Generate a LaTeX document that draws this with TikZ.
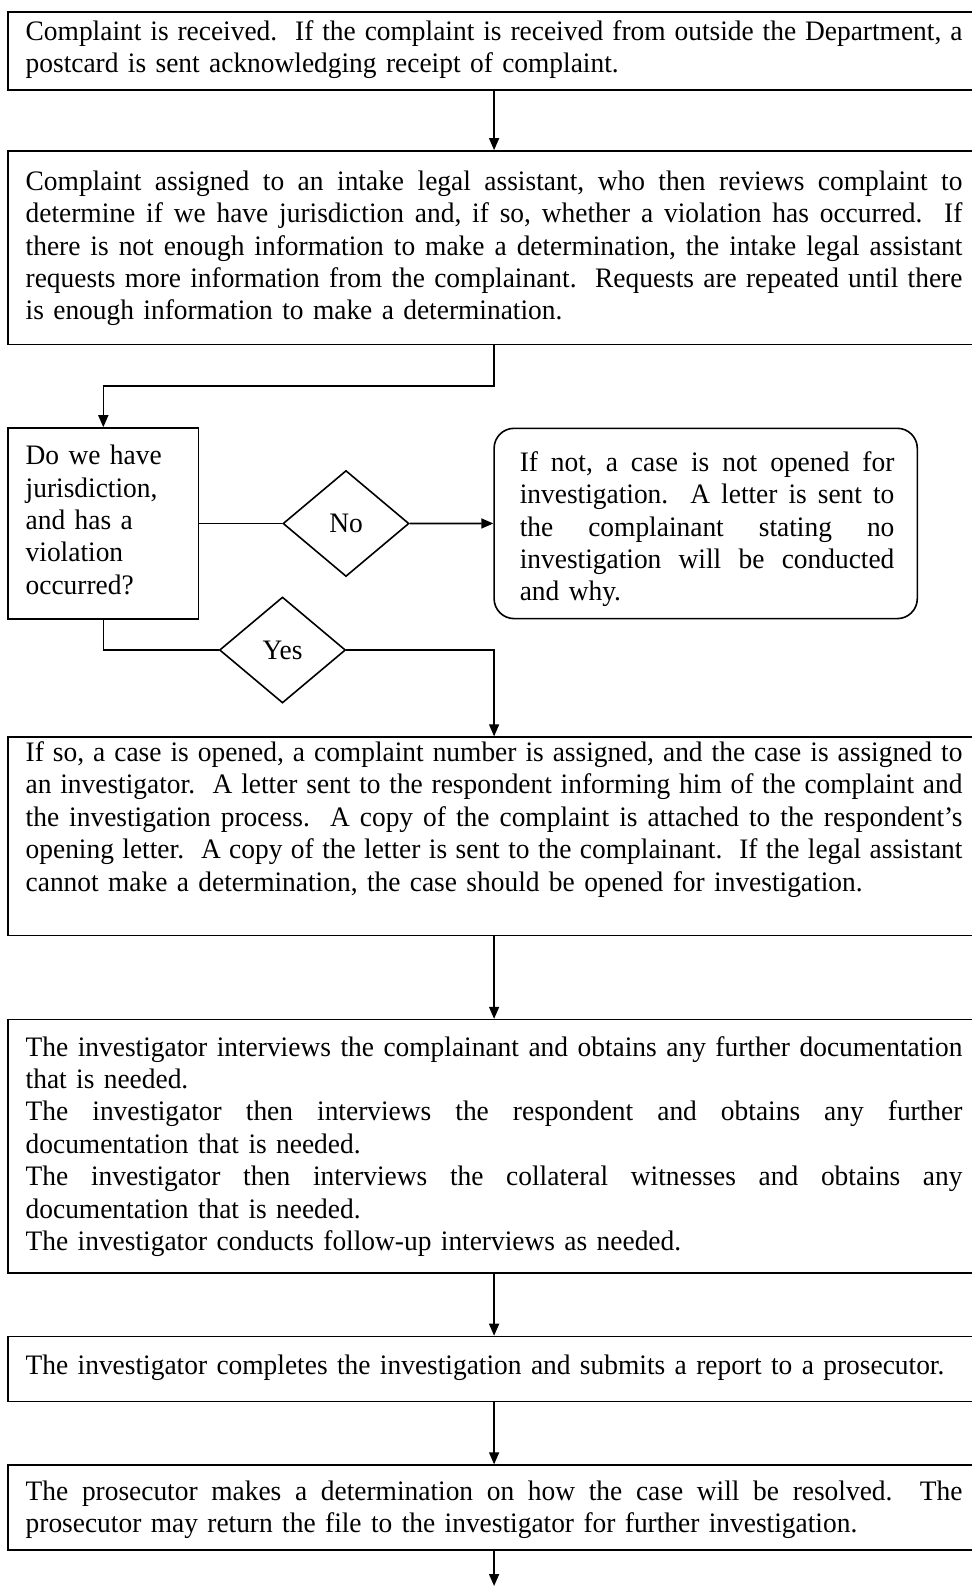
\documentclass[tikz,border=0pt]{standalone}
\usepackage{fontspec}
\setmainfont{Liberation Serif}[FakeStretch=0.972]
\usetikzlibrary{arrows.meta,shapes.geometric,fit}
\hyphenpenalty=10000
\exhyphenpenalty=10000
\frenchspacing
% a line set flush to both margins of its box (optional argument: its width)
\newcommand\jline[2][468.35pt]{\leavevmode\hbox to #1{%
  \spaceskip=\fontdimen2\font plus 1fil minus .1em\relax #2}}
\newcommand\flowfont{\fontsize{14.1pt}{16.2pt}\selectfont}
\tikzset{
  box/.style={draw, rectangle, line width=0.8pt, inner sep=0pt},
  rbox/.style={box, rounded corners=10pt},
  txt/.style={anchor=base west, inner sep=0pt, align=left, font=\flowfont},
  dia/.style={diamond, draw, line width=0.8pt, inner sep=0pt, font=\flowfont},
  conn/.style={line width=0.8pt},
  arr/.style={conn, -{Triangle[length=6pt,width=5pt]}}
}
\begin{document}
\begin{tikzpicture}[x=0.5pt, y=-0.5pt]
\useasboundingbox (0,0) rectangle (972,1587);
\fill[white] (0,0) rectangle (972,1587);
\clip (0,0) rectangle (972,1587);

% frames
\node[box, fit={(8.1,12.2) (990,90.1)}] (b1) {};
\node[box, fit={(8.1,150.9) (990,344.3)}] (b2) {};
\node[box, fit={(8.1,428) (198.5,619)}] (dec) {};
\node[rbox, fit={(494.1,428.3) (917.3,618.6)}] (rb) {};
\node[box, fit={(8.1,737.1) (990,935.5)}] (b3) {};
\node[box, fit={(8.1,1019.6) (990,1272.7)}] (b4) {};
\node[box, fit={(8.1,1336.5) (990,1401.3)}] (b5) {};
\node[box, fit={(8.1,1465.1) (990,1550.1)}] (b6) {};

% decisions
\node[dia, minimum width=63pt, minimum height=53pt] (no) at (346,523.5) {No};
\node[dia, minimum width=63pt, minimum height=53pt] (yes) at (282.5,650) {Yes};

% texts
\node[txt, text width=468.35pt] (t1) at (25.3,40.5) {%
\jline{Complaint is received.~ If the complaint is received from outside the Department, a}\\
postcard is sent acknowledging receipt of complaint.};

\node[txt, text width=468.35pt] (t2) at (25.3,190.3) {%
\jline{Complaint assigned to an intake legal assistant, who then reviews complaint to}\\
\jline{determine if we have jurisdiction and, if so, whether a violation has occurred.~ If}\\
\jline{there is not enough information to make a determination, the intake legal assistant}\\
\jline{requests more information from the complainant.~ Requests are repeated until there}\\
is enough information to make a determination.};

\node[txt, text width=80pt] (td) at (25.3,464.7) {%
Do we have\\ jurisdiction,\\ and has a\\ violation\\ occurred?};

\node[txt, text width=187.3pt] (tr) at (519.4,471.3) {%
\jline[187.3pt]{If not, a case is not opened for}\\
\jline[187.3pt]{investigation.~ A letter is sent to}\\
\jline[187.3pt]{the complainant stating no}\\
\jline[187.3pt]{investigation will be conducted}\\
and why.};

\node[txt, text width=468.35pt] (t3) at (25.3,761.4) {%
\jline{If so, a case is opened, a complaint number is assigned, and the case is assigned to}\\
\jline{an investigator.~ A letter sent to the respondent informing him of the complaint and}\\
\jline{the investigation process.~ A copy of the complaint is attached to the respondent’s}\\
\jline{opening letter.~ A copy of the letter is sent to the complainant.~ If the legal assistant}\\
cannot make a determination, the case should be opened for investigation.};

\node[txt, text width=468.35pt] (t4) at (25.3,1056) {%
\jline{The investigator interviews the complainant and obtains any further documentation}\\
that is needed.\\
\jline{The investigator then interviews the respondent and obtains any further}\\
documentation that is needed.\\
\jline{The investigator then interviews the collateral witnesses and obtains any}\\
documentation that is needed.\\
The investigator conducts follow-up interviews as needed.};

\node[txt, text width=468.35pt] (t5) at (25.3,1374) {%
The investigator completes the investigation and submits a report to a prosecutor.};

\node[txt, text width=468.35pt] (t6) at (25.3,1500.5) {%
\jline{The prosecutor makes a determination on how the case will be resolved.~ The}\\
prosecutor may return the file to the investigator for further investigation.};

% connectors
\coordinate (cx) at (494.1,0);
\coordinate (elbow) at (0,386);
\coordinate (tail) at (494.1,1586);
\draw[arr] (b1.south -| cx) -- (b2.north -| cx);
\draw[arr] (b2.south -| cx) -- (cx |- elbow) -| (dec.north);
\draw[conn] (dec.east) -- (no.west);
\draw[arr] (no.east) -- (rb.west);
\draw[conn] (dec.south) |- (yes.west);
\draw[arr] (yes.east) -| (b3.north -| cx);
\draw[arr] (b3.south -| cx) -- (b4.north -| cx);
\draw[arr] (b4.south -| cx) -- (b5.north -| cx);
\draw[arr] (b5.south -| cx) -- (b6.north -| cx);
\draw[arr] (b6.south -| cx) -- (tail);
\end{tikzpicture}
\end{document}
